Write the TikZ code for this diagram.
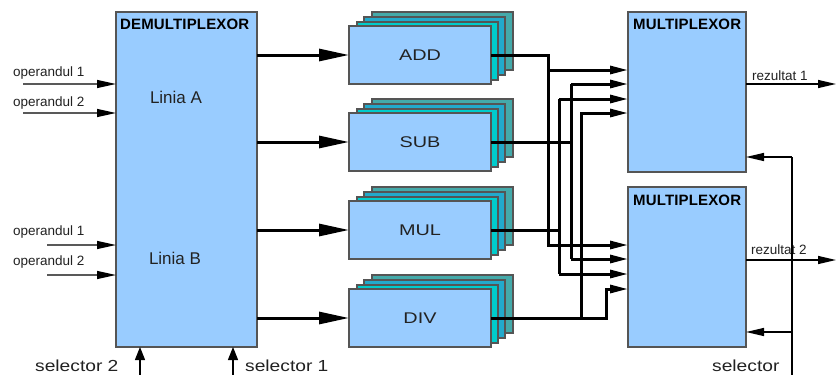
\documentclass[tikz,border=0pt]{standalone}
\usepackage{fontspec}
\usepackage{graphicx}
\setmainfont{Liberation Sans}
\newfontfamily\titfont[LetterSpace=1]{Liberation Sans}
\newcommand\aluwide[1]{\scalebox{1.28}[1]{#1}}
\newcommand\selwide[1]{\scalebox{1.2}[1]{#1}}
\usetikzlibrary{arrows.meta}
\definecolor{boxblue}{HTML}{99CCFF}
\definecolor{layertwo}{HTML}{00CCCC}
\definecolor{layerthree}{HTML}{22AACC}
\definecolor{layerfour}{HTML}{44AAAA}
\definecolor{edge}{HTML}{555555}
\definecolor{txt}{HTML}{222222}
\begin{document}
\begin{tikzpicture}[x=1pt,y=-1pt,
  box/.style={draw=edge,line width=1.2pt,fill=boxblue,inner sep=0pt,outer sep=0pt,anchor=north west},
  alubox/.style={box,minimum width=142pt,minimum height=58pt,text=txt,font=\fontsize{15.5}{18}\selectfont},
  layer/.style={box,minimum width=141pt,minimum height=58pt},
  lbl/.style={inner sep=0pt,anchor=west,text=txt,font=\fontsize{13.5}{15}\selectfont},
  sellbl/.style={inner sep=0pt,anchor=west,text=txt,font=\fontsize{16}{18}\selectfont},
  linia/.style={inner sep=0pt,text=txt,font=\fontsize{17}{19}\selectfont},
  title/.style={inner sep=0pt,anchor=west,text=black,font=\titfont\bfseries\fontsize{15}{17}\selectfont},
  bigarrow/.style={line width=3pt,-{Triangle[length=30pt,width=12pt]}},
  wire/.style={line width=3pt,line join=miter},
  muxin/.style={line width=3pt,line join=miter,-{Triangle[length=18pt,width=8pt]}},
  thinarrow/.style={line width=1.2pt,draw=black!65,-{Triangle[length=19pt,width=8pt,color=black]}},
  selarrow/.style={line width=1.3pt,-{Triangle[length=13pt,width=10pt]}},
  rsel/.style={line width=1.3pt,-{Triangle[length=18pt,width=8pt]}}
]
\useasboundingbox (0,0) rectangle (836,375);
\fill[white] (0,0) rectangle (836,375);

% Demultiplexor
\node[box,minimum width=141pt,minimum height=335pt] (demux) at (116,12) {};
\node[title] (dtitle) at (120,24) {DEMULTIPLEXOR};
\node[linia] (liniaA) at (176,97) {Linia A};
\node[linia] (liniaB) at (175,258) {Linia B};

% operand inputs
\node[lbl] (op1a) at (13,73) {operandul 1};
\node[lbl] (op2a) at (13,103) {operandul 2};
\node[lbl] (op1b) at (13,232) {operandul 1};
\node[lbl] (op2b) at (13,262) {operandul 2};
\coordinate (i1) at (23,84);
\coordinate (i2) at (23,113);
\coordinate (i3) at (47,245);
\coordinate (i4) at (47,275);
\foreach \c in {i1,i2,i3,i4} \draw[thinarrow] (\c) -- (\c -| demux.west);

% selectors at bottom
\coordinate (s2) at (140,375);
\coordinate (s1) at (233,375);
\draw[selarrow] (s2) -- (s2 |- demux.south);
\draw[selarrow] (s1) -- (s1 |- demux.south);
\node[sellbl] (sel2) at (35,366) {\selwide{selector 2}};
\node[sellbl] (sel1) at (245,366) {\selwide{selector 1}};

% ALU stacks
\foreach \n/\y/\t in {add/26/ADD,sub/113/SUB,mul/201/MUL,div/289/DIV}{
  \node[layer,fill=layerfour] (\n4) at (372,\y-14) {};
  \node[layer,fill=layerthree] (\n3) at (364,\y-9) {};
  \node[layer,fill=layertwo] (\n2) at (357,\y-4) {};
  \node[alubox] (\n) at (349,\y) {\aluwide{\t}};
  \draw[bigarrow] (\n.west -| demux.east) -- (\n.west);
}

% Multiplexors
\node[box,minimum width=118pt,minimum height=160pt] (mux1) at (628,12) {};
\node[box,minimum width=118pt,minimum height=160pt] (mux2) at (628,187) {};
\node[title] (m1title) at (633,24) {MULTIPLEXOR};
\node[title] (m2title) at (633,200) {MULTIPLEXOR};

% mux input points
\coordinate (m1a) at (628,70);
\coordinate (m1b) at (628,84);
\coordinate (m1c) at (628,99);
\coordinate (m1d) at (628,113);
\coordinate (m2a) at (628,245);
\coordinate (m2b) at (628,259);
\coordinate (m2c) at (628,274);
\coordinate (m2d) at (628,289);
% vertical bus x positions
\coordinate (vA) at (548,0);
\coordinate (vM) at (559,0);
\coordinate (vS) at (571,0);
\coordinate (vD) at (581,0);
\coordinate (vJ) at (606,0);

% ADD
\draw[muxin] (add.east) -- (add.east -| vA) -- (vA |- m2a) -- (m2a);
\draw[muxin] (vA |- m1a) -- (m1a);
% SUB
\draw[wire] (sub.east) -- (sub.east -| vS);
\draw[muxin] (vS |- m1b) -- (m1b);
\draw[wire] (vS |- m1b) -- (vS |- m2b);
\draw[muxin] (vS |- m2b) -- (m2b);
% MUL
\draw[wire] (mul.east) -- (mul.east -| vM);
\draw[muxin] (vM |- m1c) -- (m1c);
\draw[wire] (vM |- m1c) -- (vM |- m2c);
\draw[muxin] (vM |- m2c) -- (m2c);
% DIV
\draw[muxin] (div.east) -- (div.east -| vJ) -- (vJ |- m2d) -- (m2d);
\draw[muxin] (vD |- div.east) -- (vD |- m1d) -- (m1d);

% results
\coordinate (r1) at (836,84);
\coordinate (r2) at (836,260);
\draw[rsel] (r1 -| mux1.east) -- (r1);
\draw[rsel] (r2 -| mux2.east) -- (r2);
\node[lbl] (rez1) at (752,76) {rezultat 1};
\node[lbl] (rez2) at (751,250) {rezultat 2};

% right selector
\coordinate (sel) at (792,375);
\coordinate (selt) at (792,157);
\coordinate (selm) at (792,332);
\draw[line width=1.3pt] (sel) -- (selt);
\draw[rsel] (selt) -- (selt -| mux1.east);
\draw[rsel] (selm) -- (selm -| mux2.east);
\node[sellbl] (selr) at (712,366) {\selwide{selector}};
\end{tikzpicture}
\end{document}
